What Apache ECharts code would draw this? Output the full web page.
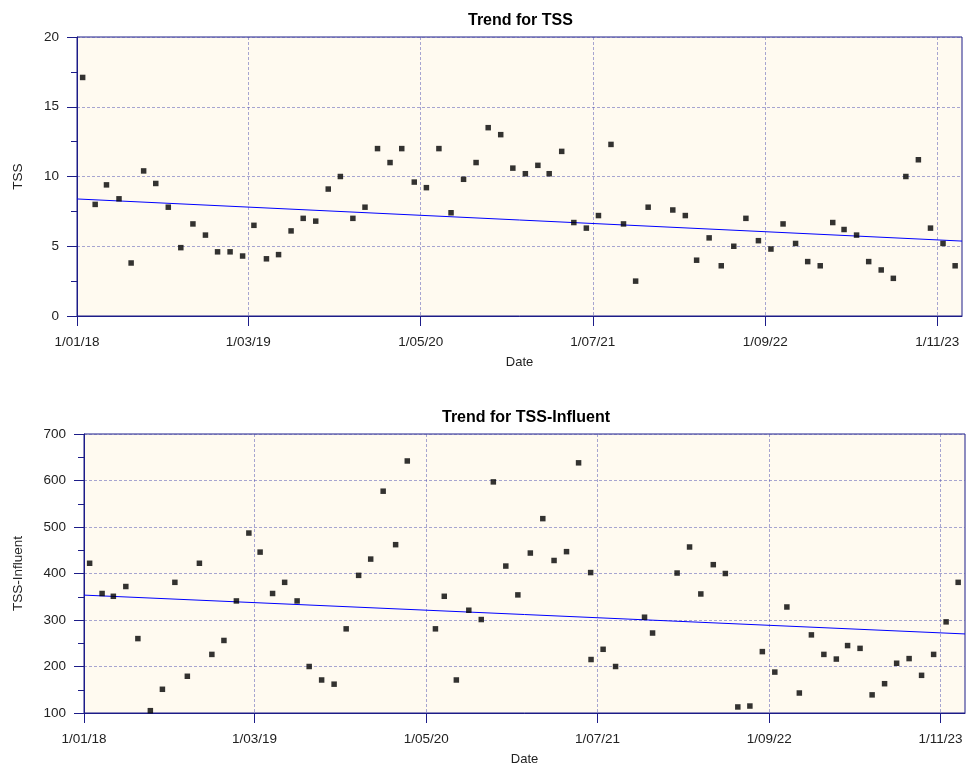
<!DOCTYPE html>
<html>
<head>
<meta charset="utf-8">
<title>Trend for TSS</title>
<script src="https://cdn.jsdelivr.net/npm/echarts@6/dist/echarts.min.js"></script>
<style>
  html, body { margin: 0; padding: 0; background: #ffffff; }
  #chart { width: 966px; height: 767px; }
</style>
</head>
<body>
<div id="chart"></div>
<script>
// Sample dates and measured values
const tssDates = [
  '2018-01-15','2018-02-15','2018-03-15','2018-04-15','2018-05-15','2018-06-15',
  '2018-07-15','2018-08-15','2018-09-15','2018-10-15','2018-11-15','2018-12-15',
  '2019-01-15','2019-02-15','2019-03-15','2019-04-15','2019-05-15','2019-06-15',
  '2019-07-15','2019-08-15','2019-09-15','2019-10-15','2019-11-15','2019-12-15',
  '2020-01-15','2020-02-15','2020-03-15','2020-04-15','2020-05-15','2020-06-15',
  '2020-07-15','2020-08-15','2020-09-15','2020-10-15','2020-11-15','2020-12-15',
  '2021-01-15','2021-02-15','2021-03-15','2021-04-15','2021-05-15','2021-06-15',
  '2021-07-15','2021-08-15','2021-09-15','2021-10-15','2021-11-15',
  '2022-01-15','2022-02-15','2022-03-15','2022-04-15','2022-05-15','2022-06-15',
  '2022-07-15','2022-08-15','2022-09-15','2022-10-15','2022-11-15','2022-12-15',
  '2023-01-15','2023-02-15','2023-03-15','2023-04-15','2023-05-15','2023-06-15',
  '2023-07-15','2023-08-15','2023-09-15','2023-10-15','2023-11-15','2023-12-15'
];
const tssValues = [
  17.1, 8.0, 9.4, 8.4, 3.8, 10.4,
  9.5, 7.8, 4.9, 6.6, 5.8, 4.6,
  4.6, 4.3, 6.5, 4.1, 4.4, 6.1,
  7.0, 6.8, 9.1, 10.0, 7.0, 7.8,
  12.0, 11.0, 12.0, 9.6, 9.2, 12.0,
  7.4, 9.8, 11.0, 13.5, 13.0, 10.6,
  10.2, 10.8, 10.2, 11.8, 6.7, 6.3,
  7.2, 12.3, 6.6, 2.5, 7.8,
  7.6, 7.2, 4.0, 5.6, 3.6, 5.0,
  7.0, 5.4, 4.8, 6.6, 5.2, 3.9,
  3.6, 6.7, 6.2, 5.8, 3.9, 3.3,
  2.7, 10.0, 11.2, 6.3, 5.2, 3.6
];

const inflDates = [
  '2018-01-15','2018-02-15','2018-03-15','2018-04-15','2018-05-15','2018-06-15',
  '2018-07-15','2018-08-15','2018-09-15','2018-10-15','2018-11-15','2018-12-15',
  '2019-01-15','2019-02-15','2019-03-15','2019-04-15','2019-05-15','2019-06-15',
  '2019-07-15','2019-08-15','2019-09-15','2019-10-15','2019-11-15','2019-12-15',
  '2020-01-15','2020-02-15','2020-03-15','2020-05-24','2020-06-15',
  '2020-07-15','2020-08-15','2020-09-15','2020-10-15','2020-11-15','2020-12-15',
  '2021-01-15','2021-02-15','2021-03-15','2021-04-15','2021-05-15','2021-06-14','2021-06-15',
  '2021-07-15','2021-08-15','2021-10-26','2021-11-15',
  '2022-01-15','2022-02-15','2022-03-15','2022-04-15','2022-05-15','2022-06-15',
  '2022-07-15','2022-08-15','2022-09-15','2022-10-15','2022-11-15','2022-12-15',
  '2023-01-15','2023-02-15','2023-03-15','2023-04-15','2023-05-15','2023-06-15',
  '2023-07-15','2023-08-15','2023-09-15','2023-10-15','2023-11-15','2023-12-15'
];
const inflValues = [
  422, 357, 351, 372, 260, 105,
  151, 381, 179, 422, 226, 256,
  341, 487, 446, 357, 381, 341,
  200, 171, 162, 281, 396, 431,
  577, 462, 642, 281, 351,
  171, 321, 301, 597, 416, 354,
  444, 518, 428, 447, 638, 402, 215,
  237, 200, 306, 272,
  401, 457, 356, 419, 400, 113,
  115, 232, 188, 328, 143, 268,
  226, 216, 245, 239, 139, 163,
  207, 217, 181, 226, 296, 381
];

// Linear trend lines, as end points over the axis range
const trendDates = ['2018-01-01', '2024-01-01'];
const tssTrend = [8.39, 5.37];
const inflTrend = [353.5, 270];

// Date axis range and tick positions (every 14 months)
const axisStart = '2018-01-01';
const axisEnd = '2024-01-01';
const tickDates = ['2018-01-01','2019-03-01','2020-05-01','2021-07-01','2022-09-01','2023-11-01'];

function ts(s) {
  const p = s.split('-').map(Number);
  return +new Date(p[0], p[1] - 1, p[2]);
}
function fmtDate(v) {
  const d = new Date(v);
  const mm = String(d.getMonth() + 1).padStart(2, '0');
  return d.getDate() + '/' + mm + '/' + String(d.getFullYear()).slice(2);
}
function pairs(dates, vals) {
  return dates.map((d, i) => [ts(d), vals[i]]);
}

const FONT = '"Liberation Sans", Arial, sans-serif';
const NAVY = '#1c1c88';
const GRIDLINE = 'rgba(80,80,175,0.5)';
const tickTs = tickDates.map(ts);

function xAxisFor(gridIndex) {
  return {
    type: 'value', gridIndex,
    min: ts(axisStart), max: ts(axisEnd),
    name: 'Date', nameLocation: 'middle', nameGap: 40,
    nameTextStyle: { fontFamily: FONT, fontSize: 13, color: '#222' },
    axisLine: { show: true, onZero: false, lineStyle: { color: NAVY, width: 1 } },
    axisTick: { show: true, length: 10, customValues: tickTs, lineStyle: { color: NAVY } },
    axisLabel: { customValues: tickTs, formatter: fmtDate, margin: 19,
      fontFamily: FONT, fontSize: 13.5, color: '#222' },
    splitLine: { show: true, lineStyle: { color: GRIDLINE, type: [3, 2], width: 1 } }
  };
}
function yAxisFor(gridIndex, name, min, max, interval, gap) {
  return {
    type: 'value', gridIndex, min, max, interval,
    name, nameLocation: 'middle', nameGap: gap, nameRotate: 90,
    nameTextStyle: { fontFamily: FONT, fontSize: 13.5, color: '#222' },
    axisLine: { show: true, onZero: false, lineStyle: { color: NAVY, width: 1 } },
    axisTick: { show: true, length: 10, lineStyle: { color: NAVY } },
    minorTick: { show: true, splitNumber: 2, length: 6, lineStyle: { color: NAVY } },
    axisLabel: { margin: 18, fontFamily: FONT, fontSize: 13.5, color: '#222' },
    splitLine: { show: true, lineStyle: { color: GRIDLINE, type: [3, 2], width: 1 } }
  };
}

const chart = echarts.init(document.getElementById('chart'), null, { renderer: 'canvas' });
chart.setOption({
  animation: false,
  backgroundColor: '#ffffff',
  title: [
    { text: 'Trend for TSS', left: 463, top: 8,
      textStyle: { fontFamily: FONT, fontSize: 16, fontWeight: 'bold', color: '#000' } },
    { text: 'Trend for TSS-Influent', left: 437, top: 405,
      textStyle: { fontFamily: FONT, fontSize: 16, fontWeight: 'bold', color: '#000' } }
  ],
  grid: [
    { left: 77, top: 37, width: 885, height: 279, show: true,
      backgroundColor: '#FFFAF0', borderColor: NAVY, borderWidth: 1 },
    { left: 84, top: 434, width: 881, height: 279, show: true,
      backgroundColor: '#FFFAF0', borderColor: NAVY, borderWidth: 1 }
  ],
  xAxis: [xAxisFor(0), xAxisFor(1)],
  yAxis: [
    yAxisFor(0, 'TSS', 0, 20, 5, 52),
    yAxisFor(1, 'TSS-Influent', 100, 700, 100, 59)
  ],
  series: [
    { type: 'line', xAxisIndex: 0, yAxisIndex: 0, data: pairs(trendDates, tssTrend),
      symbol: 'none', silent: true, z: 2,
      lineStyle: { color: '#0000ff', width: 1 } },
    { type: 'scatter', xAxisIndex: 0, yAxisIndex: 0, data: pairs(tssDates, tssValues),
      symbol: 'rect', symbolSize: 5.5, z: 3, itemStyle: { color: '#000' } },
    { type: 'line', xAxisIndex: 1, yAxisIndex: 1, data: pairs(trendDates, inflTrend),
      symbol: 'none', silent: true, z: 2,
      lineStyle: { color: '#0000ff', width: 1 } },
    { type: 'scatter', xAxisIndex: 1, yAxisIndex: 1, data: pairs(inflDates, inflValues),
      symbol: 'rect', symbolSize: 5.5, z: 3, itemStyle: { color: '#000' } }
  ]
});
</script>
</body>
</html>
